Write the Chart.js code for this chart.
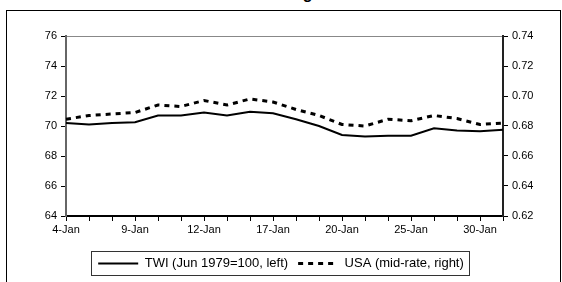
<!DOCTYPE html>
<html>
<head>
<meta charset="utf-8">
<script src="https://cdn.jsdelivr.net/npm/chart.js@4"></script>
<style>
  html, body { margin: 0; padding: 0; background: #fff; overflow: hidden; }
  #wrap { position: relative; width: 562px; height: 282px; overflow: hidden; }
  #frame { position: absolute; left: 6px; top: 10px; width: 553px; height: 300px; border: 1px solid #000; }
  #title { position: absolute; left: 40px; width: 530px; top: -15px; text-align: center;
           font: bold 16px "Liberation Sans", Arial, sans-serif; color: #000; }
  canvas { position: absolute; left: 0; top: 0; }
</style>
</head>
<body>
<div id="wrap">
  <div id="frame"></div>
  <div id="title">Exchange rates</div>
  <canvas id="chart" width="562" height="282"></canvas>
</div>
<script>
// trading days in January
const dates = ['4-Jan', '5-Jan', '6-Jan', '9-Jan', '10-Jan', '11-Jan', '12-Jan', '13-Jan', '16-Jan', '17-Jan',
  '18-Jan', '19-Jan', '20-Jan', '23-Jan', '24-Jan', '25-Jan', '26-Jan', '27-Jan', '30-Jan', '31-Jan'];

// trade weighted index, left axis
const twi = [70.2, 70.1, 70.2, 70.25, 70.7, 70.7, 70.9, 70.7, 70.95, 70.85,
  70.45, 70.0, 69.4, 69.3, 69.35, 69.35, 69.85, 69.7, 69.65, 69.75];

// US dollar mid-rate, right axis
const usa = [0.6845, 0.687, 0.688, 0.689, 0.694, 0.693, 0.697, 0.694, 0.698, 0.696,
  0.691, 0.687, 0.681, 0.680, 0.6845, 0.6835, 0.687, 0.685, 0.681, 0.682];

const leftTicks = { min: 64, max: 76, step: 2 };
const rightTicks = { min: 0.62, max: 0.74, step: 0.02 };

const FONT = '"Liberation Sans", Arial, sans-serif';

// draws the box round the legend
const legendFrame = {
  id: 'legendFrame',
  afterDraw(chart) {
    const boxes = chart.legend.legendHitBoxes;
    if (!boxes || !boxes.length) return;
    const left = Math.min(...boxes.map(b => b.left)) - 7;
    const right = Math.max(...boxes.map(b => b.left + b.width)) + 5;
    const top = boxes[0].top - 6;
    const bottom = boxes[0].top + boxes[0].height + 5;
    const ctx = chart.ctx;
    ctx.save();
    ctx.strokeStyle = '#333';
    ctx.lineWidth = 1;
    ctx.setLineDash([]);
    ctx.strokeRect(Math.round(left) + 0.5, Math.round(top) + 0.5, Math.round(right - left), Math.round(bottom - top));
    ctx.restore();
  }
};

new Chart(document.getElementById('chart'), {
  type: 'line',
  data: {
    labels: dates,
    datasets: [{
      label: 'TWI (Jun 1979=100, left)',
      data: twi,
      yAxisID: 'y',
      borderColor: '#000',
      borderWidth: 2,
      pointRadius: 0,
      tension: 0
    }, {
      label: 'USA (mid-rate, right)',
      data: usa,
      yAxisID: 'y1',
      borderColor: '#000',
      borderWidth: 3,
      borderDash: [5, 5],
      pointRadius: 0,
      tension: 0
    }]
  },
  options: {
    responsive: false,
    animation: false,
    devicePixelRatio: 1,
    layout: { padding: { top: 36, bottom: 2, left: 0, right: 0 } },
    plugins: {
      title: { display: false },
      tooltip: { enabled: false },
      legend: {
        position: 'bottom',
        labels: {
          usePointStyle: true,
          pointStyle: 'line',
          pointStyleWidth: 40,
          boxHeight: 13,
          padding: 10,
          color: '#000',
          font: { family: FONT, size: 13 },
          // take dash and width from the dataset, not from its points
          generateLabels(chart) {
            const items = Chart.defaults.plugins.legend.labels.generateLabels(chart);
            items.forEach(item => {
              const ds = chart.data.datasets[item.datasetIndex];
              item.lineDash = ds.borderDash || [];
              item.lineWidth = ds.borderWidth;
              item.strokeStyle = ds.borderColor;
              item.pointStyle = 'line';
            });
            return items;
          }
        }
      }
    },
    scales: {
      x: {
        type: 'category',
        offset: false,
        grid: { drawOnChartArea: false, tickLength: 5, color: '#000', lineWidth: 1 },
        border: { color: '#000', width: 2 },
        ticks: {
          autoSkip: false,
          maxRotation: 0,
          padding: 2,
          color: '#000',
          font: { family: FONT, size: 11 },
          callback: function (value, index) {
            return index % 3 === 0 ? this.getLabelForValue(value) : '';
          }
        },
        afterFit(scale) { scale.height = 31; }
      },
      y: {
        position: 'left',
        min: leftTicks.min,
        max: leftTicks.max,
        grid: {
          tickLength: 5,
          tickColor: '#000',
          color: ctx => (ctx.tick && ctx.tick.value === leftTicks.max ? '#888' : 'rgba(0,0,0,0)')
        },
        border: { color: '#666', width: 2 },
        ticks: { stepSize: leftTicks.step, padding: 4, color: '#000', font: { family: FONT, size: 11 } },
        afterFit(scale) { scale.width = 66; }
      },
      y1: {
        position: 'right',
        min: rightTicks.min,
        max: rightTicks.max,
        grid: { drawOnChartArea: false, tickLength: 5, color: '#000' },
        border: { color: '#222', width: 2 },
        ticks: {
          stepSize: rightTicks.step,
          padding: 4,
          color: '#000',
          font: { family: FONT, size: 11 },
          callback: v => Number(v).toFixed(2)
        },
        afterFit(scale) { scale.width = 59; }
      }
    }
  },
  plugins: [legendFrame]
});
</script>
</body>
</html>
